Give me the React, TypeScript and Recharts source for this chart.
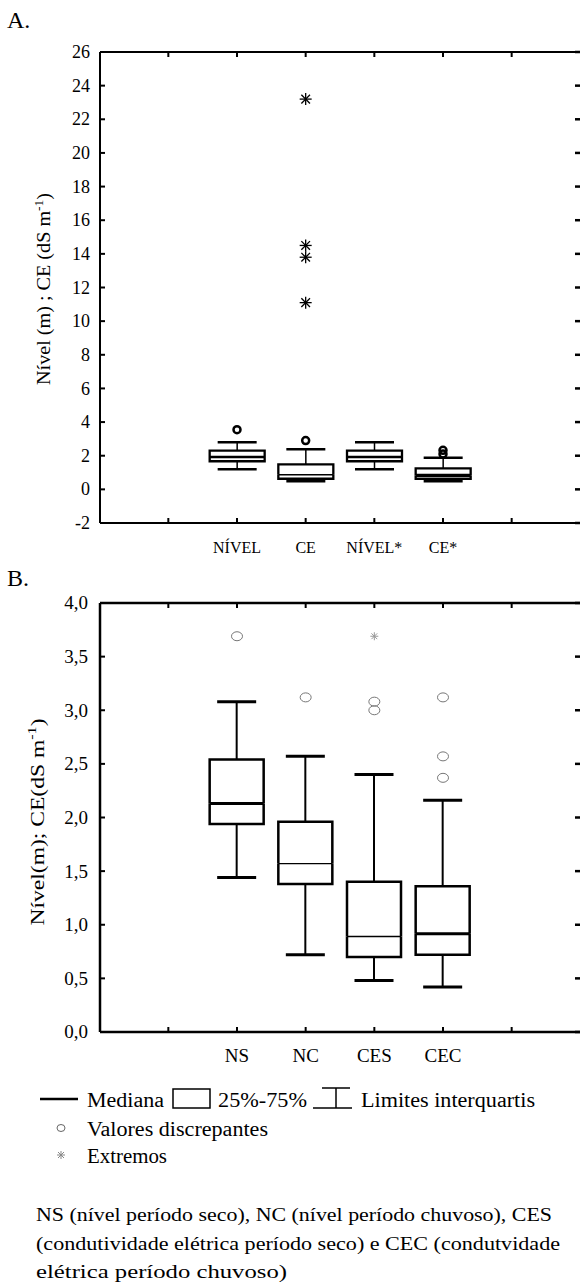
import React from 'react';
import { ComposedChart, Bar, Line, XAxis, YAxis } from 'recharts';

const FONT = 'Liberation Serif';

// painel A
const catsA = ['', 'NÍVEL', 'CE', 'NÍVEL*', 'CE*', ' '];
const minA = [null, 1.2, 0.48, 1.2, 0.48, null];
const q1A = [null, 1.67, 0.63, 1.67, 0.62, null];
const medA = [null, 1.93, 0.87, 1.93, 0.82, null];
const q3A = [null, 2.3, 1.48, 2.3, 1.25, null];
const maxA = [null, 2.8, 2.38, 2.8, 1.88, null];
const outA = [[], [3.55], [2.9], [], [2.32, 2.1], []];
const extA = [[], [], [23.2, 14.5, 13.8, 11.1], [], [], []];
const ticksA = [-2, 0, 2, 4, 6, 8, 10, 12, 14, 16, 18, 20, 22, 24, 26];

// painel B
const catsB = ['', 'NS', 'NC', 'CES', 'CEC', ' '];
const minB = [null, 1.44, 0.72, 0.48, 0.42, null];
const q1B = [null, 1.94, 1.38, 0.7, 0.72, null];
const medB = [null, 2.13, 1.57, 0.89, 0.915, null];
const q3B = [null, 2.54, 1.96, 1.4, 1.36, null];
const maxB = [null, 3.08, 2.57, 2.4, 2.16, null];
const outB = [[], [3.69], [3.12], [3.08, 3.0], [3.12, 2.57, 2.37], []];
const extB = [[], [], [], [3.69], [], []];
const ticksB = [0, 0.5, 1, 1.5, 2, 2.5, 3, 3.5, 4];

const medianWidthA = [0, 2.5, 1.5, 2.5, 3.5, 0];
const medianWidthB = [0, 3, 1.3, 1.5, 3, 0];

function buildRows(cats: string[], mins: any[], q1s: any[], meds: any[], q3s: any[], maxs: any[], outs: number[][], exts: number[][]) {
  return cats.map((c, i) => {
    const row: any = { cat: c };
    if (mins[i] != null) {
      row.base = mins[i];
      row.w1 = q1s[i] - mins[i];
      row.b1 = meds[i] - q1s[i];
      row.b2 = q3s[i] - meds[i];
      row.w2 = maxs[i] - q3s[i];
    }
    outs[i].forEach((v, k) => (row['o' + k] = v));
    exts[i].forEach((v, k) => (row['e' + k] = v));
    return row;
  });
}

const rowsA = buildRows(catsA, minA, q1A, medA, q3A, maxA, outA, extA);
const rowsB = buildRows(catsB, minB, q1B, medB, q3B, maxB, outB, extB);

type BoxStyle = { box: number; whisker: number; cap: number; capW: number; medians: number[] };

function shapes(st: BoxStyle) {
  const ok = (p: any) => p && p.payload && p.payload.base != null && isFinite(p.y) && isFinite(p.height);
  return {
    w1: (p: any) => {
      if (!ok(p)) return <g />;
      const cx = p.x + p.width / 2;
      const yb = p.y + p.height;
      return (
        <g>
          <line x1={cx} x2={cx} y1={p.y} y2={yb} stroke="#000" strokeWidth={st.whisker} />
          <line x1={cx - st.cap / 2} x2={cx + st.cap / 2} y1={yb} y2={yb} stroke="#000" strokeWidth={st.capW} />
        </g>
      );
    },
    b1: (p: any) => {
      if (!ok(p)) return <g />;
      const x0 = p.x, x1 = p.x + p.width, yt = p.y, yb = p.y + p.height;
      return (
        <g>
          <path d={`M${x0},${yt} L${x0},${yb} L${x1},${yb} L${x1},${yt}`} fill="none" stroke="#000" strokeWidth={st.box} />
          <line x1={x0} x2={x1} y1={yt} y2={yt} stroke="#000" strokeWidth={st.medians[p.index]} />
        </g>
      );
    },
    b2: (p: any) => {
      if (!ok(p)) return <g />;
      const x0 = p.x, x1 = p.x + p.width, yt = p.y, yb = p.y + p.height;
      return <path d={`M${x0},${yb} L${x0},${yt} L${x1},${yt} L${x1},${yb}`} fill="none" stroke="#000" strokeWidth={st.box} />;
    },
    w2: (p: any) => {
      if (!ok(p)) return <g />;
      const cx = p.x + p.width / 2;
      const yb = p.y + p.height;
      return (
        <g>
          <line x1={cx} x2={cx} y1={p.y} y2={yb} stroke="#000" strokeWidth={st.whisker} />
          <line x1={cx - st.cap / 2} x2={cx + st.cap / 2} y1={p.y} y2={p.y} stroke="#000" strokeWidth={st.capW} />
        </g>
      );
    },
  };
}

function circleDot(rx: number, ry: number, color: string, sw: number) {
  return (p: any) => {
    if (p.value == null || p.cy == null || !isFinite(p.cy)) return <g key={p.key} />;
    return <ellipse key={p.key} cx={p.cx} cy={p.cy} rx={rx} ry={ry} fill="none" stroke={color} strokeWidth={sw} />;
  };
}

function starDot(r: number, color: string, sw: number) {
  return (p: any) => {
    if (p.value == null || p.cy == null || !isFinite(p.cy)) return <g key={p.key} />;
    const d = r * 0.72;
    return (
      <g key={p.key} stroke={color} strokeWidth={sw}>
        <line x1={p.cx - r} x2={p.cx + r} y1={p.cy} y2={p.cy} />
        <line x1={p.cx} x2={p.cx} y1={p.cy - r} y2={p.cy + r} />
        <line x1={p.cx - d} x2={p.cx + d} y1={p.cy - d} y2={p.cy + d} />
        <line x1={p.cx - d} x2={p.cx + d} y1={p.cy + d} y2={p.cy - d} />
      </g>
    );
  };
}

function leftTick(fs: number, margin: number, fmt: (v: number) => string, sw: number) {
  return (p: any) => (
    <g>
      <line x1={p.x + margin} x2={p.x + margin + 5} y1={p.y} y2={p.y} stroke="#000" strokeWidth={sw} />
      <text x={p.x} y={p.y} dy="0.34em" textAnchor="end" fontSize={fs} style={{ fontFamily: FONT }} fill="#000">
        {fmt(p.payload.value)}
      </text>
    </g>
  );
}

function bottomTick(fs: number, margin: number, textY: number, sw: number) {
  return (p: any) => (
    <g>
      <line x1={p.x} x2={p.x} y1={p.y - margin} y2={p.y - margin - 5} stroke="#000" strokeWidth={sw} />
      <text x={p.x} y={p.y - margin + textY} textAnchor="middle" fontSize={fs} style={{ fontFamily: FONT }} fill="#000">
        {p.payload.value}
      </text>
    </g>
  );
}

function topTick(sw: number) {
  return (p: any) => <line x1={p.x} x2={p.x} y1={p.y} y2={p.y + 5} stroke="#000" strokeWidth={sw} />;
}

function rightTick(sw: number) {
  return (p: any) => <line x1={p.x - 5} x2={p.x} y1={p.y} y2={p.y} stroke="#000" strokeWidth={sw} />;
}

type PanelProps = {
  rows: any[];
  height: number;
  topH: number;
  bottomH: number;
  domain: [number, number];
  ticks: number[];
  fmt: (v: number) => string;
  tickFs: number;
  tickMargin: number;
  xFs: number;
  xTextY: number;
  st: BoxStyle;
  barSize: number;
  axisW: number;
  nOut: number;
  nExt: number;
  outRx: number;
  outRy: number;
  outColor: string;
  outW: number;
  extR: number;
  extColor: string;
  extW: number;
};

function BoxPanel(pp: PanelProps) {
  const sh = shapes(pp.st);
  const outKeys = Array.from({ length: pp.nOut }, (_, k) => 'o' + k);
  const extKeys = Array.from({ length: pp.nExt }, (_, k) => 'e' + k);
  const axisLine = { stroke: '#000', strokeWidth: pp.axisW };
  return (
    <ComposedChart width={581} height={pp.height} data={pp.rows} margin={{ top: 0, right: 0, bottom: 0, left: 0 }}>
      <XAxis
        dataKey="cat"
        xAxisId="b"
        height={pp.bottomH}
        padding={{ left: 34, right: 34 }}
        tickSize={0}
        tickMargin={4}
        tickLine={false}
        axisLine={axisLine}
        interval={0}
        tick={bottomTick(pp.xFs, 4, pp.xTextY, 2)}
      />
      <XAxis
        dataKey="cat"
        xAxisId="t"
        orientation="top"
        height={pp.topH}
        padding={{ left: 34, right: 34 }}
        tickSize={0}
        tickMargin={0}
        tickLine={false}
        axisLine={axisLine}
        interval={0}
        tick={topTick(2)}
      />
      <YAxis
        yAxisId="l"
        width={100}
        type="number"
        domain={pp.domain}
        ticks={pp.ticks}
        allowDataOverflow
        interval={0}
        tickSize={0}
        tickMargin={pp.tickMargin}
        tickLine={false}
        axisLine={axisLine}
        tick={leftTick(pp.tickFs, pp.tickMargin, pp.fmt, 2)}
      />
      <YAxis
        yAxisId="r"
        orientation="right"
        width={1}
        type="number"
        domain={pp.domain}
        ticks={pp.ticks}
        allowDataOverflow
        interval={0}
        tickSize={0}
        tickMargin={0}
        tickLine={false}
        axisLine={false}
        tick={rightTick(2.5)}
      />
      <Bar dataKey="base" stackId="s" xAxisId="b" yAxisId="l" barSize={pp.barSize} fill="none" shape={() => <g />} isAnimationActive={false} />
      <Bar dataKey="w1" stackId="s" xAxisId="b" yAxisId="l" barSize={pp.barSize} shape={sh.w1} isAnimationActive={false} />
      <Bar dataKey="b1" stackId="s" xAxisId="b" yAxisId="l" barSize={pp.barSize} shape={sh.b1} isAnimationActive={false} />
      <Bar dataKey="b2" stackId="s" xAxisId="b" yAxisId="l" barSize={pp.barSize} shape={sh.b2} isAnimationActive={false} />
      <Bar dataKey="w2" stackId="s" xAxisId="b" yAxisId="l" barSize={pp.barSize} shape={sh.w2} isAnimationActive={false} />
      {outKeys.map((k) => (
        <Line
          key={k}
          dataKey={k}
          xAxisId="b"
          yAxisId="l"
          stroke="none"
          dot={circleDot(pp.outRx, pp.outRy, pp.outColor, pp.outW)}
          activeDot={false}
          isAnimationActive={false}
        />
      ))}
      {extKeys.map((k) => (
        <Line
          key={k}
          dataKey={k}
          xAxisId="b"
          yAxisId="l"
          stroke="none"
          dot={starDot(pp.extR, pp.extColor, pp.extW)}
          activeDot={false}
          isAnimationActive={false}
        />
      ))}
    </ComposedChart>
  );
}

const fmtA = (v: number) => String(v);
const fmtB = (v: number) => v.toFixed(1).replace('.', ',');

const T = { fontFamily: FONT };

export default function App() {
  return (
    <div style={{ position: 'absolute', left: 0, top: 0, width: 581, height: 1286, background: '#fff', fontFamily: FONT }}>
      <div style={{ position: 'absolute', left: 0, top: 0 }}>
        <BoxPanel
          rows={rowsA}
          height={560}
          topH={52}
          bottomH={37}
          domain={[-2, 26]}
          ticks={ticksA}
          fmt={fmtA}
          tickFs={18}
          tickMargin={10}
          xFs={16}
          xTextY={30}
          st={{ box: 2.3, whisker: 1.5, cap: 39, capW: 2.5, medians: medianWidthA }}
          barSize={55}
          axisW={2}
          nOut={2}
          nExt={4}
          outRx={3.5}
          outRy={3.5}
          outColor="#000"
          outW={2.5}
          extR={6}
          extColor="#000"
          extW={1.3}
        />
      </div>
      <div style={{ position: 'absolute', left: 0, top: 560 }}>
        <BoxPanel
          rows={rowsB}
          height={510}
          topH={43}
          bottomH={38}
          domain={[0, 4]}
          ticks={ticksB}
          fmt={fmtB}
          tickFs={19}
          tickMargin={12}
          xFs={19}
          xTextY={30}
          st={{ box: 2.5, whisker: 2, cap: 39, capW: 3, medians: medianWidthB }}
          barSize={54}
          axisW={2.5}
          nOut={3}
          nExt={1}
          outRx={5.5}
          outRy={4.5}
          outColor="#777"
          outW={1}
          extR={4}
          extColor="#999"
          extW={1}
        />
      </div>
      <svg width={581} height={1286} style={{ position: 'absolute', left: 0, top: 0, pointerEvents: 'none', fontFamily: FONT }}>
        <text x={7} y={28} fontSize={24} style={T}>A.</text>
        <text x={7} y={586} fontSize={24} style={T}>B.</text>
        <text transform="translate(50,289) rotate(-90)" textAnchor="middle" fontSize={18} style={T} textLength={192} lengthAdjust="spacingAndGlyphs">
          Nível (m) ; CE (dS m<tspan dy={-7} fontSize={12}>-1</tspan><tspan dy={7}>)</tspan>
        </text>
        <text transform="translate(44,822) rotate(-90)" textAnchor="middle" fontSize={19} style={T} textLength={207} lengthAdjust="spacingAndGlyphs">
          Nível(m); CE(dS m<tspan dy={-8} fontSize={13}>-1</tspan><tspan dy={8}>)</tspan>
        </text>

        <line x1={40} x2={78} y1={1099} y2={1099} stroke="#000" strokeWidth={2.5} />
        <text x={87} y={1107} fontSize={20} style={T} textLength={77} lengthAdjust="spacingAndGlyphs">Mediana</text>
        <rect x={173} y={1089} width={37} height={19} fill="none" stroke="#000" strokeWidth={1.5} />
        <text x={218} y={1107} fontSize={20} style={T} textLength={89} lengthAdjust="spacingAndGlyphs">25%-75%</text>
        <line x1={322} x2={350} y1={1088} y2={1088} stroke="#000" strokeWidth={1.5} />
        <line x1={336} x2={336} y1={1088} y2={1108} stroke="#000" strokeWidth={1.5} />
        <line x1={313} x2={352} y1={1108} y2={1108} stroke="#000" strokeWidth={1.5} />
        <text x={361} y={1107} fontSize={20} style={T} textLength={174} lengthAdjust="spacingAndGlyphs">Limites interquartis</text>
        <ellipse cx={61} cy={1128} rx={4} ry={3.5} fill="none" stroke="#666" strokeWidth={1} />
        <text x={87} y={1136} fontSize={20} style={T} textLength={181} lengthAdjust="spacingAndGlyphs">Valores discrepantes</text>
        <g stroke="#888" strokeWidth={1}>
          <line x1={57} x2={65} y1={1155} y2={1155} />
          <line x1={61} x2={61} y1={1151} y2={1159} />
          <line x1={58} x2={64} y1={1152} y2={1158} />
          <line x1={58} x2={64} y1={1158} y2={1152} />
        </g>
        <text x={87} y={1163} fontSize={20} style={T} textLength={80} lengthAdjust="spacingAndGlyphs">Extremos</text>

        <text x={36} y={1221} fontSize={19} style={T} textLength={516} lengthAdjust="spacingAndGlyphs">
          NS (nível período seco), NC (nível período chuvoso), CES
        </text>
        <text x={36} y={1250} fontSize={19} style={T} textLength={524} lengthAdjust="spacingAndGlyphs">
          (condutividade elétrica período seco) e CEC (condutvidade
        </text>
        <text x={36} y={1278} fontSize={19} style={T} textLength={251} lengthAdjust="spacingAndGlyphs">
          elétrica período chuvoso)
        </text>
      </svg>
    </div>
  );
}
